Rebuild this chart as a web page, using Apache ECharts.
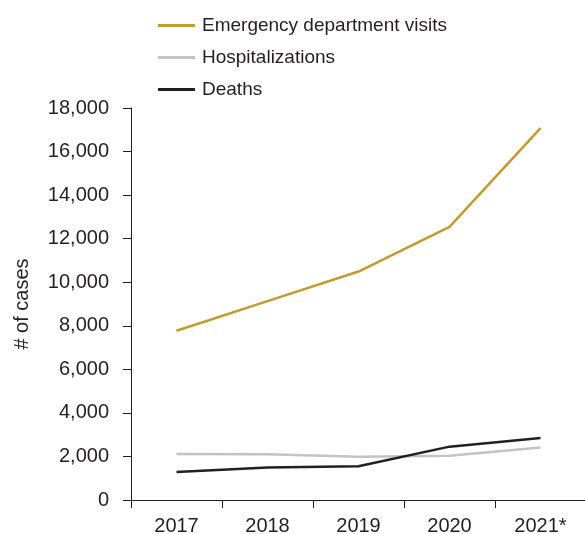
<!DOCTYPE html>
<html>
<head>
<meta charset="utf-8">
<script src="https://cdn.jsdelivr.net/npm/echarts@6/dist/echarts.min.js"></script>
<style>
html,body{margin:0;padding:0;background:#fff;}
#chart{width:585px;height:534px;}
</style>
</head>
<body>
<div id="chart"></div>
<script>
const categories = ['2017', '2018', '2019', '2020', '2021*'];
const edVisits = [7770, 9130, 10490, 12540, 17080];
const hospitalizations = [2110, 2100, 1985, 2030, 2415];
const deaths = [1285, 1490, 1550, 2450, 2845];
const seriesNames = ['Emergency department visits', 'Hospitalizations', 'Deaths'];
const colors = ['#C29B2C', '#C3C3C6', '#231F20'];

const chart = echarts.init(document.getElementById('chart'));
const axisFont = 'Liberation Sans, Arial, sans-serif';
chart.setOption({
  animation: false,
  color: colors,
  legend: {
    orient: 'vertical',
    left: 158,
    top: 16,
    padding: 0,
    itemWidth: 37,
    itemHeight: 3,
    itemGap: 13,
    icon: 'rect',
    textStyle: { fontFamily: axisFont, fontSize: 19, color: '#231F20', padding: [0, 0, 0, 2] },
    data: seriesNames
  },
  grid: { left: 131, right: -1, top: 108, bottom: 34, containLabel: false, outerBoundsMode: 'none' },
  xAxis: {
    type: 'category',
    data: categories,
    boundaryGap: true,
    axisLine: { lineStyle: { color: '#231F20', width: 1 } },
    axisTick: { show: true, length: 8, inside: false, lineStyle: { color: '#231F20' } },
    axisLabel: { fontFamily: axisFont, fontSize: 20, color: '#231F20', margin: 16 }
  },
  yAxis: {
    type: 'value',
    min: 0,
    max: 18000,
    interval: 2000,
    name: '# of cases',
    nameLocation: 'middle',
    nameGap: 99,
    nameTextStyle: { fontFamily: axisFont, fontSize: 20, color: '#231F20' },
    axisLine: { show: true, lineStyle: { color: '#231F20', width: 1 } },
    axisTick: { show: true, length: 8, lineStyle: { color: '#231F20' } },
    splitLine: { show: false },
    axisLabel: {
      fontFamily: axisFont, fontSize: 20, color: '#231F20', margin: 22,
      formatter: v => v.toLocaleString('en-US')
    }
  },
  series: [
    { name: seriesNames[0], type: 'line', data: edVisits, symbol: 'none', lineStyle: { width: 2.5, color: colors[0] } },
    { name: seriesNames[1], type: 'line', data: hospitalizations, symbol: 'none', lineStyle: { width: 2.5, color: colors[1] } },
    { name: seriesNames[2], type: 'line', data: deaths, symbol: 'none', lineStyle: { width: 2.5, color: colors[2] } }
  ]
});
</script>
</body>
</html>
